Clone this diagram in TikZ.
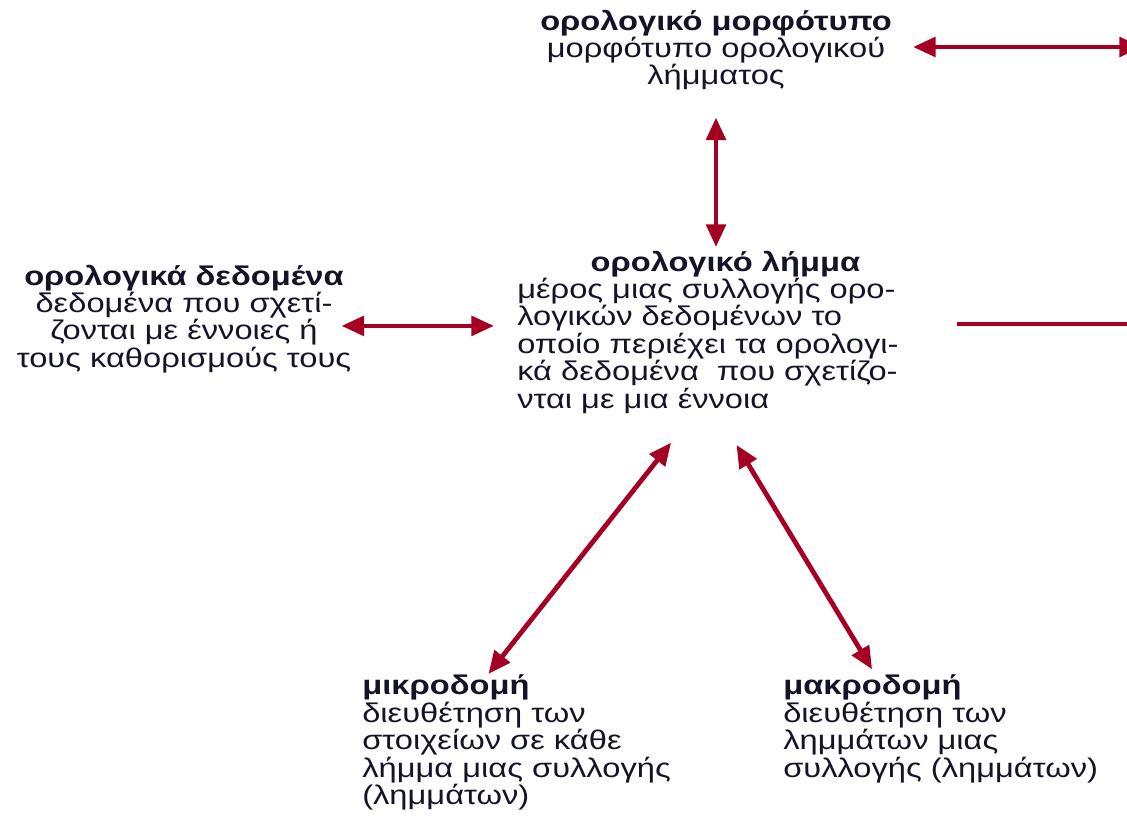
\documentclass[tikz,border=0pt]{standalone}
\usepackage{fontspec}
\setmainfont{Liberation Sans}[FakeStretch=1.21]
\usetikzlibrary{arrows.meta}
\definecolor{linkred}{RGB}{165,0,33}
\definecolor{inkblue}{RGB}{20,20,40}

\begin{document}
\begin{tikzpicture}[x=0.75pt,y=-0.75pt]
  \tikzset{term/.style = {inner sep=0pt, text=inkblue, font=\fontsize{20.25}{20.6}\selectfont}}
  \tikzset{edge/.style = {draw=linkred, line width=3.6pt, {Triangle[length=17pt,width=14.5pt]}-{Triangle[length=17pt,width=14.5pt]}}}
  \tikzset{bar/.style = {draw=linkred, line width=3.6pt}}

  \useasboundingbox (0,0) rectangle (1127,815);

  \node[term, align=center, anchor=north] (morph) at (716,9.5)
  {\textbf{ορολογικό μορφότυπο}\\μορφότυπο ορολογικού\\λήμματος};
  \node[term, align=center, anchor=north] (data) at (184,264.5)
  {\textbf{ορολογικά δεδομένα}\\δεδομένα που σχετί-\\ζονται με έννοιες ή\\τους καθορισμούς τους};
  \node[term, align=left, anchor=north west] (entry) at (517,250.5)
  {\hspace*{55pt}\textbf{ορολογικό λήμμα}\\μέρος μιας συλλογής ορο-\\λογικών δεδομένων το\\οποίο περιέχει τα ορολογι-\\κά δεδομένα\ \ που σχετίζο-\\νται με μια έννοια};

  \node[term, align=left, anchor=north west] (micro) at (362,674.5)
  {\textbf{μικροδομή}\\διευθέτηση των\\στοιχείων σε κάθε\\λήμμα μιας συλλογής\\(λημμάτων)};
  \node[term, align=left, anchor=north west] (macro) at (783,674.5)
  {\textbf{μακροδομή}\\διευθέτηση των\\λημμάτων μιας\\συλλογής (λημμάτων)};

  \coordinate (offmorph) at (1142,47);
  \coordinate (offentry) at (1140,324);
  \coordinate (dataport) at ([yshift=-5.25pt]data.east);

  \draw[edge, shorten <=15.75pt] (morph.east |- offmorph) -- (offmorph);
  \draw[edge, shorten <=20pt, shorten >=2.6pt] (morph.south) -- (morph.south |- entry.north);
  \draw[edge, shorten <=-7.5pt, shorten >=17.25pt] (dataport) -- (dataport -| entry.west);
  \draw[bar, shorten <=43.5pt] (offentry -| entry.east) -- (offentry);

  \draw[edge, shorten <=27.5pt, shorten >=0.5pt] ([xshift=-10.5pt]entry.south) -- ([xshift=-21.4pt]micro.north);
  \draw[edge, shorten <=27.2pt, shorten >=4.5pt] ([xshift=7.4pt]entry.south) -- ([xshift=-49.1pt]macro.north);
\end{tikzpicture}
\end{document}
